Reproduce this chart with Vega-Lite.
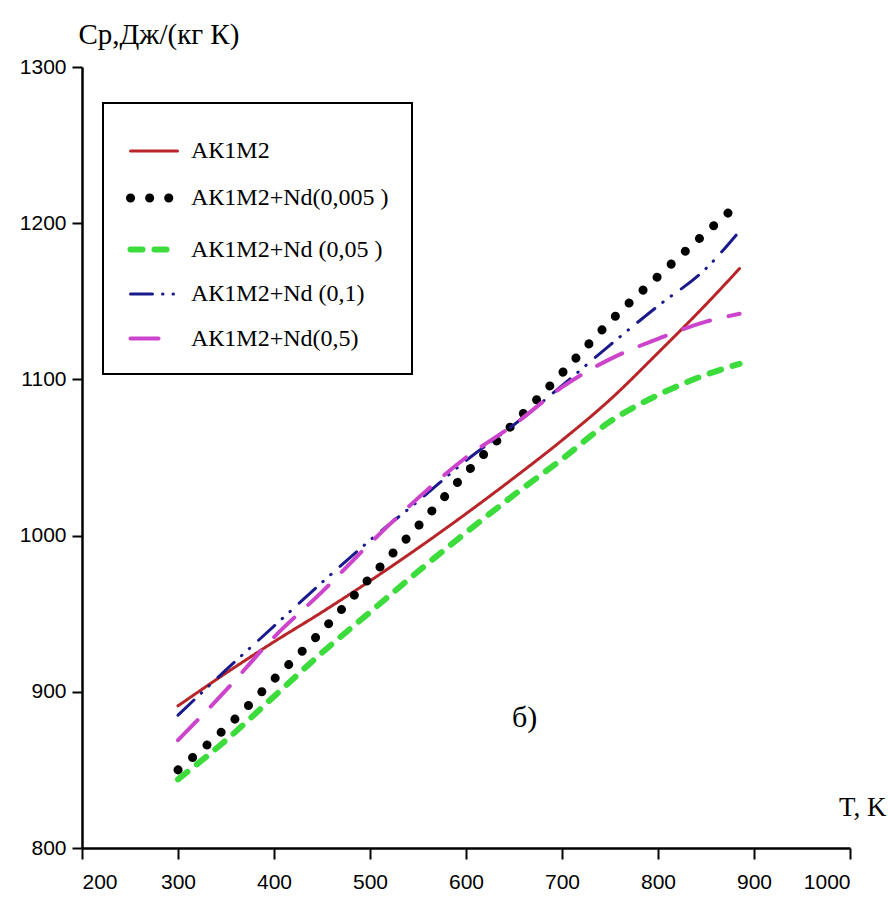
{
  "$schema": "https://vega.github.io/schema/vega-lite/v6.json",
  "width": 768,
  "height": 781,
  "autosize": "none",
  "padding": {"left": 82, "top": 67, "right": 38, "bottom": 60},
  "background": "white",
  "config": {
    "view": {"stroke": null},
    "legend": {"orient": "none", "legendX": 21, "legendY": 36, "title": null,
      "symbolType": "stroke", "symbolSize": 2209, "padding": 23, "rowPadding": 7, "labelOffset": 9,
      "labelFont": "Liberation Serif", "labelFontSize": 24, "labelColor": "black", "labelLimit": 400,
      "strokeColor": "black", "fillColor": "white"}
  },
  "data": {"values": [
    {"series": "АК1М2", "T": 300, "Cp": 891}, {"series": "АК1М2", "T": 350, "Cp": 912}, {"series": "АК1М2", "T": 400, "Cp": 932}, {"series": "АК1М2", "T": 450, "Cp": 951}, {"series": "АК1М2", "T": 500, "Cp": 971}, {"series": "АК1М2", "T": 550, "Cp": 992}, {"series": "АК1М2", "T": 600, "Cp": 1014}, {"series": "АК1М2", "T": 650, "Cp": 1037}, {"series": "АК1М2", "T": 700, "Cp": 1061}, {"series": "АК1М2", "T": 750, "Cp": 1087}, {"series": "АК1М2", "T": 800, "Cp": 1117}, {"series": "АК1М2", "T": 850, "Cp": 1148}, {"series": "АК1М2", "T": 885, "Cp": 1171},
    {"series": "АК1М2+Nd(0,005 )", "T": 300, "Cp": 850}, {"series": "АК1М2+Nd(0,005 )", "T": 350, "Cp": 877}, {"series": "АК1М2+Nd(0,005 )", "T": 400, "Cp": 908}, {"series": "АК1М2+Nd(0,005 )", "T": 450, "Cp": 939}, {"series": "АК1М2+Nd(0,005 )", "T": 500, "Cp": 973}, {"series": "АК1М2+Nd(0,005 )", "T": 550, "Cp": 1006}, {"series": "АК1М2+Nd(0,005 )", "T": 600, "Cp": 1040}, {"series": "АК1М2+Nd(0,005 )", "T": 650, "Cp": 1072}, {"series": "АК1М2+Nd(0,005 )", "T": 700, "Cp": 1104}, {"series": "АК1М2+Nd(0,005 )", "T": 750, "Cp": 1137}, {"series": "АК1М2+Nd(0,005 )", "T": 800, "Cp": 1166}, {"series": "АК1М2+Nd(0,005 )", "T": 850, "Cp": 1194}, {"series": "АК1М2+Nd(0,005 )", "T": 885, "Cp": 1213},
    {"series": "АК1М2+Nd (0,05 )", "T": 300, "Cp": 844}, {"series": "АК1М2+Nd (0,05 )", "T": 350, "Cp": 869}, {"series": "АК1М2+Nd (0,05 )", "T": 400, "Cp": 897}, {"series": "АК1М2+Nd (0,05 )", "T": 450, "Cp": 925}, {"series": "АК1М2+Nd (0,05 )", "T": 500, "Cp": 951}, {"series": "АК1М2+Nd (0,05 )", "T": 550, "Cp": 977}, {"series": "АК1М2+Nd (0,05 )", "T": 600, "Cp": 1002}, {"series": "АК1М2+Nd (0,05 )", "T": 650, "Cp": 1026}, {"series": "АК1М2+Nd (0,05 )", "T": 700, "Cp": 1049}, {"series": "АК1М2+Nd (0,05 )", "T": 750, "Cp": 1073}, {"series": "АК1М2+Nd (0,05 )", "T": 800, "Cp": 1090}, {"series": "АК1М2+Nd (0,05 )", "T": 850, "Cp": 1103}, {"series": "АК1М2+Nd (0,05 )", "T": 885, "Cp": 1110},
    {"series": "АК1М2+Nd (0,1)", "T": 300, "Cp": 885}, {"series": "АК1М2+Nd (0,1)", "T": 350, "Cp": 914}, {"series": "АК1М2+Nd (0,1)", "T": 400, "Cp": 942}, {"series": "АК1М2+Nd (0,1)", "T": 450, "Cp": 970}, {"series": "АК1М2+Nd (0,1)", "T": 500, "Cp": 997}, {"series": "АК1М2+Nd (0,1)", "T": 550, "Cp": 1022}, {"series": "АК1М2+Nd (0,1)", "T": 600, "Cp": 1048}, {"series": "АК1М2+Nd (0,1)", "T": 650, "Cp": 1071}, {"series": "АК1М2+Nd (0,1)", "T": 700, "Cp": 1096}, {"series": "АК1М2+Nd (0,1)", "T": 750, "Cp": 1122}, {"series": "АК1М2+Nd (0,1)", "T": 800, "Cp": 1147}, {"series": "АК1М2+Nd (0,1)", "T": 850, "Cp": 1171}, {"series": "АК1М2+Nd (0,1)", "T": 885, "Cp": 1195},
    {"series": "АК1М2+Nd(0,5)", "T": 300, "Cp": 869}, {"series": "АК1М2+Nd(0,5)", "T": 350, "Cp": 901}, {"series": "АК1М2+Nd(0,5)", "T": 400, "Cp": 935}, {"series": "АК1М2+Nd(0,5)", "T": 450, "Cp": 964}, {"series": "АК1М2+Nd(0,5)", "T": 500, "Cp": 995}, {"series": "АК1М2+Nd(0,5)", "T": 550, "Cp": 1024}, {"series": "АК1М2+Nd(0,5)", "T": 600, "Cp": 1050}, {"series": "АК1М2+Nd(0,5)", "T": 650, "Cp": 1071}, {"series": "АК1М2+Nd(0,5)", "T": 700, "Cp": 1095}, {"series": "АК1М2+Nd(0,5)", "T": 750, "Cp": 1113}, {"series": "АК1М2+Nd(0,5)", "T": 800, "Cp": 1126}, {"series": "АК1М2+Nd(0,5)", "T": 850, "Cp": 1137}, {"series": "АК1М2+Nd(0,5)", "T": 885, "Cp": 1142}
  ]},
  "layer": [
    {
      "mark": {"type": "line", "interpolate": "monotone", "strokeCap": "round"},
      "encoding": {
        "x": {"field": "T", "type": "quantitative",
          "scale": {"domain": [200, 1000], "nice": false, "zero": false},
          "axis": {"values": [200, 300, 400, 500, 600, 700, 800, 900, 1000], "format": "d", "grid": false,
            "domainColor": "black", "domainWidth": 2.5, "tickColor": "black", "tickWidth": 2, "tickSize": 11,
            "labelFont": "Liberation Sans", "labelFontSize": 21, "labelColor": "black", "labelPadding": 12,
            "title": "T, K", "titleFont": "Liberation Serif", "titleFontSize": 27, "titleFontWeight": "normal", "titleColor": "black",
            "titleAnchor": "end", "titleAlign": "right", "titleBaseline": "alphabetic", "titleX": 804, "titleY": -33}},
        "y": {"field": "Cp", "type": "quantitative",
          "scale": {"domain": [800, 1300], "nice": false, "zero": false},
          "axis": {"values": [800, 900, 1000, 1100, 1200, 1300], "format": "d", "grid": false,
            "domainColor": "black", "domainWidth": 2.5, "tickColor": "black", "tickWidth": 2, "tickSize": 10,
            "labelFont": "Liberation Sans", "labelFontSize": 21, "labelColor": "black", "labelPadding": 6,
            "title": "Ср,Дж/(кг К)", "titleFont": "Liberation Serif", "titleFontSize": 29, "titleFontWeight": "normal", "titleColor": "black",
            "titleAngle": 0, "titleAlign": "left", "titleBaseline": "alphabetic", "titleAnchor": "start", "titleX": -4, "titleY": -24}},
        "color": {"field": "series", "type": "nominal",
          "scale": {"domain": ["АК1М2", "АК1М2+Nd(0,005 )", "АК1М2+Nd (0,05 )", "АК1М2+Nd (0,1)", "АК1М2+Nd(0,5)"],
                    "range": ["#b8262a", "#000000", "#3cdc3c", "#1a1a8c", "#cc44cc"]},
          "legend": {"labelFont": "Liberation Serif",
            "encode": {"symbols": {"update": {"strokeCap": {"value": "round"}}},
                       "labels": {"update": {"font": {"value": "Liberation Serif"}, "fontSize": {"value": 24}}},
                       "legend": {"update": {"strokeWidth": {"value": 2}}}}}},
        "strokeDash": {"field": "series", "type": "nominal",
          "scale": {"domain": ["АК1М2", "АК1М2+Nd(0,005 )", "АК1М2+Nd (0,05 )", "АК1М2+Nd (0,1)", "АК1М2+Nd(0,5)"],
                    "range": [[1, 0], [0.1, 19], [12, 12], [22, 10, 0.5, 10, 0.5, 12], [28, 19]]}},
        "strokeWidth": {"field": "series", "type": "nominal",
          "scale": {"type": "ordinal", "domain": ["АК1М2", "АК1М2+Nd(0,005 )", "АК1М2+Nd (0,05 )", "АК1М2+Nd (0,1)", "АК1М2+Nd(0,5)"],
                    "range": [3, 9, 6, 3, 4]}}
      }
    },
    {
      "data": {"values": [{}]},
      "mark": {"type": "text", "font": "Liberation Serif", "fontSize": 30, "color": "black", "align": "center", "baseline": "middle"},
      "encoding": {"x": {"datum": 661}, "y": {"datum": 883}, "text": {"value": "б)"}}
    }
  ]
}
